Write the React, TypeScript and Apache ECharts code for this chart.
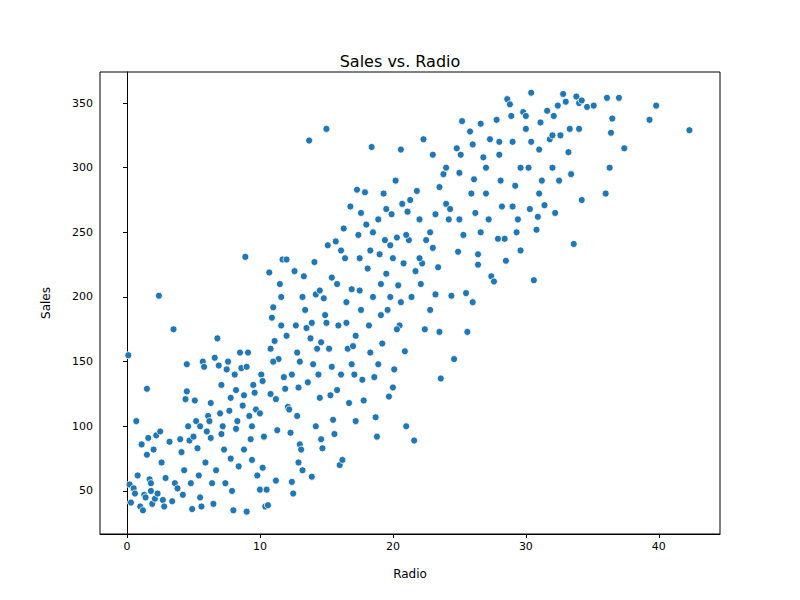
import React, { useEffect, useRef } from "react";
import * as echarts from "echarts";

// [radio, sales]
const points: number[][] = [
  [0.1, 155], [0.2, 55], [0.3, 41], [0.5, 52], [0.6, 48], [0.7, 104], [0.8, 62], [1, 38], [1.1, 86], [1.2, 35],
  [1.3, 47], [1.4, 45], [1.5, 129], [1.5, 78], [1.6, 91], [1.7, 59], [1.8, 56], [1.9, 40], [2, 82], [2.1, 44],
  [2.2, 93], [2.3, 48], [2.4, 201], [2.5, 96], [2.6, 72], [2.7, 43], [2.8, 38], [3.5, 175], [3.4, 42], [3.6, 56],
  [3.8, 52], [4, 90], [4.1, 80], [4.2, 47], [4.4, 121], [4.5, 148], [4.5, 127], [4.6, 100], [4.7, 89], [4.8, 56],
  [4.9, 36], [5, 92], [5.1, 120], [5.2, 104], [5.3, 83], [5.4, 62], [5.5, 45], [5.6, 38], [5.7, 150], [5.8, 146],
  [5.9, 72], [6, 96], [6.1, 108], [6.2, 104], [6.3, 91], [6.4, 56], [6.5, 40], [6.6, 153], [6.7, 66], [6.8, 168],
  [6.9, 147], [7, 110], [7.1, 94], [7.2, 100], [7.3, 82], [7.4, 56], [7.5, 144], [7.6, 150], [7.7, 112], [7.8, 122],
  [7.9, 50], [8, 35], [8.1, 140], [8.2, 98], [8.3, 104], [8.4, 69], [8.5, 157], [8.6, 145], [8.7, 116], [8.8, 124],
  [8.9, 231], [9, 34], [9.1, 157], [9.2, 108], [9.3, 90], [9.4, 74], [9.5, 132], [9.6, 126], [9.7, 113], [9.8, 62],
  [10, 51], [10.1, 140], [10.2, 135], [10.3, 92], [10.4, 38], [10.5, 51], [10.6, 39], [10.7, 219], [10.8, 160], [10.9, 184],
  [11, 192], [11.1, 166], [11.2, 121], [11.3, 97], [11.4, 152], [11.5, 210], [11.6, 200], [11.7, 229], [11.8, 138], [11.9, 129],
  [12, 229], [12.1, 115], [12.2, 113], [12.3, 95], [12.4, 57], [12.5, 48], [12.6, 220], [12.7, 178], [12.8, 157], [12.9, 130],
  [13, 86], [13.1, 82], [13.2, 66], [13.3, 216], [13.4, 190], [13.5, 176], [13.6, 134], [13.7, 321], [13.8, 168], [13.9, 61],
  [14, 148], [14.1, 227], [14.2, 202], [14.3, 160], [14.4, 140], [14.5, 122], [14.6, 90], [14.7, 83], [14.8, 199], [14.9, 186],
  [15, 330], [15.1, 240], [15.2, 160], [15.3, 124], [15.4, 146], [15.5, 105], [15.6, 94], [15.7, 243], [15.8, 210], [15.9, 178],
  [16, 70], [16.1, 140], [16.2, 74], [16.3, 253], [16.4, 230], [16.5, 196], [16.6, 160], [16.7, 118], [16.8, 270], [16.9, 206],
  [17, 162], [17.1, 140], [17.2, 104], [17.3, 283], [17.4, 248], [17.5, 230], [17.6, 190], [17.7, 136], [17.8, 120], [17.9, 281],
  [18, 256], [18.1, 222], [18.2, 178], [18.3, 157], [18.4, 316], [18.5, 250], [18.6, 138], [18.7, 107], [18.8, 92], [18.9, 260],
  [19, 233], [19.1, 186], [19.2, 164], [19.3, 280], [19.4, 244], [19.5, 218], [19.6, 190], [19.7, 123], [19.8, 200], [19.9, 264],
  [20, 230], [20.1, 144], [20.2, 290], [20.3, 246], [20.4, 209], [20.5, 178], [20.6, 314], [20.7, 272], [20.8, 226], [20.9, 158],
  [21, 100], [21.1, 266], [21.2, 244], [21.4, 200], [21.6, 89], [21.8, 282], [22, 260], [22.2, 226], [22.3, 322], [22.4, 175],
  [22.5, 244], [22.8, 190], [23, 310], [23.2, 264], [23.4, 223], [23.5, 173], [23.6, 137], [23.8, 295], [24, 272], [24.2, 260],
  [24.4, 201], [24.6, 152], [24.8, 315], [25, 296], [25.2, 336], [25.3, 248], [25.5, 203], [25.6, 173], [25.8, 328], [26, 318],
  [26.1, 291], [26.2, 265], [26.4, 233], [26.6, 334], [26.8, 308], [27, 280], [27.2, 260], [27.4, 216], [27.6, 212], [27.8, 337],
  [28, 310], [28.2, 270], [28.4, 245], [28.5, 228], [28.6, 353], [28.8, 349], [29, 320], [29.2, 286], [29.4, 260], [29.6, 236],
  [29.8, 343], [30, 330], [30.2, 300], [30.3, 268], [30.4, 358], [30.6, 213], [30.8, 252], [31, 314], [31.2, 290], [31.4, 271],
  [31.6, 344], [31.8, 322], [32, 300], [32.2, 265], [32.4, 348], [32.6, 325], [32.8, 357], [33, 351], [33.2, 312], [33.4, 295],
  [33.6, 241], [33.8, 355], [34, 330], [34.2, 275], [34.6, 347], [36, 280], [36.1, 354], [36.3, 300], [36.4, 327], [37, 354],
  [37.4, 315], [39.3, 337], [39.8, 348], [42.3, 329], [22, 230], [21, 248], [19.5, 268], [17.5, 205], [15, 180], [13, 150],
  [12, 170], [11, 150], [10, 110], [9, 146], [12.8, 108], [14.5, 205], [16.5, 180], [18.5, 200], [20, 130], [23, 238],
  [25, 260], [27, 300], [29, 270], [31, 280], [26, 196], [24, 300], [28, 320], [30, 340], [32, 325], [34, 350],
  [1.8, 50], [2.9, 60], [3.2, 88], [4.3, 66], [5.5, 100], [6.3, 118], [7.1, 132], [8.2, 128], [9.4, 100], [10.2, 68],
  [10.8, 125], [11.6, 178], [12.4, 140], [13.2, 200], [13.9, 180], [14.6, 165], [15.4, 215], [16.1, 236], [16.9, 148], [17.6, 265],
  [18.3, 236], [19.1, 210], [19.8, 240], [20.6, 196], [21.3, 275], [22.1, 210], [22.8, 250], [23.5, 285], [24.3, 268], [25.1, 310],
  [25.9, 280], [26.6, 250], [27.3, 322], [28.1, 290], [28.9, 340], [29.6, 300], [30.4, 320], [31.1, 335], [32.1, 340], [33.3, 330],
  [34.2, 352], [35.1, 348], [36.5, 338], [7.8, 75], [8.8, 82], [11.2, 58], [12.9, 72], [14.2, 100], [15.8, 128], [17.2, 170],
  [18.9, 148], [20.3, 175], [21.7, 220], [23.2, 202], [24.9, 235], [26.4, 225], [27.9, 245], [29.3, 250], [30.9, 262], [32.5, 290],
];

const xTicks = [0, 10, 20, 30, 40];
const yTicks = [50, 100, 150, 200, 250, 300, 350];

export default function App() {
  const ref = useRef<HTMLDivElement>(null);
  useEffect(() => {
    const chart = echarts.init(ref.current!, null, { renderer: "svg" });
    const font = "DejaVu Sans";
    const line = { show: true, lineStyle: { color: "#000", width: 1 } };
    chart.setOption({
      animation: false,
      textStyle: { fontFamily: font },
      title: {
        text: "Sales vs. Radio", left: "center", top: 48,
        textStyle: { fontFamily: font, fontSize: 16, fontWeight: "normal", color: "#000" },
      },
      grid: { left: 100, right: 80, top: 72, bottom: 66, show: true, borderColor: "#000", borderWidth: 1 },
      xAxis: {
        type: "value", min: -2.03, max: 44.6, name: "Radio", nameLocation: "middle", nameGap: 34,
        nameTextStyle: { fontSize: 12, color: "#000" },
        axisLine: line, splitLine: { show: false },
        axisTick: { show: true, inside: false, length: 4, lineStyle: { color: "#000" }, customValues: xTicks },
        axisLabel: { color: "#000", fontSize: 11, customValues: xTicks, margin: 7 },
      },
      yAxis: {
        type: "value", min: 16.7, max: 374, name: "Sales", nameLocation: "middle", nameGap: 48,
        nameTextStyle: { fontSize: 12, color: "#000" },
        axisLine: line, splitLine: { show: false },
        axisTick: { show: true, inside: false, length: 4, lineStyle: { color: "#000" }, customValues: yTicks },
        axisLabel: { color: "#000", fontSize: 11, customValues: yTicks, margin: 7 },
      },
      series: [{
        type: "scatter", data: points, symbolSize: 7,
        itemStyle: { color: "#1f77b4", borderColor: "#fff", borderWidth: 0.8, opacity: 1 },
      }],
    });
    return () => chart.dispose();
  }, []);
  return <div ref={ref} style={{ position: "absolute", left: 0, top: 0, width: 800, height: 600 }} />;
}
